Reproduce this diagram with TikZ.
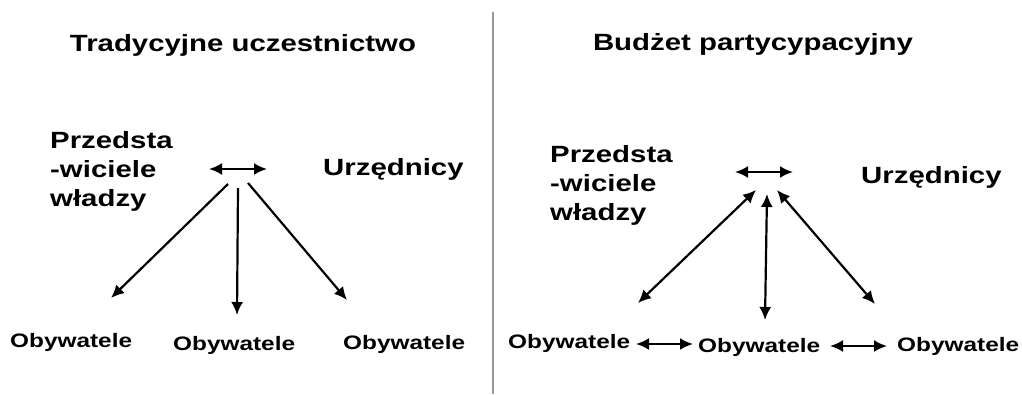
\documentclass[tikz,border=0pt]{standalone}
\usepackage{fontspec}
\newfontfamily\diagfont[FakeStretch=1.25]{Liberation Sans}
\usetikzlibrary{arrows.meta}

\tikzset{
  heading/.style={font=\diagfont\bfseries\fontsize{23.5}{29}\selectfont, inner sep=0pt, anchor=base},
  actor/.style={font=\diagfont\bfseries\fontsize{23.5}{29}\selectfont, inner sep=0pt, align=left},
  citizen/.style={font=\diagfont\bfseries\fontsize{19.5}{23}\selectfont, inner sep=0pt, anchor=base west},
  flow/.style={line width=2.2pt, -{Latex[length=13pt,width=12pt]}},
  both/.style={line width=2.2pt, {Latex[length=13pt,width=12pt]}-{Latex[length=13pt,width=12pt]}}
}

\begin{document}
\begin{tikzpicture}[x=1pt,y=-1pt]
  \useasboundingbox (0,0) rectangle (1022,394);
  \draw[gray!80, line width=1.2pt] (493,12) -- (493,394); % divider

  % left: traditional participation
  \node[heading] (titleL) at (243,51) {Tradycyjne uczestnictwo};
  \node[actor, anchor=west] (repL) at (50,171) {Przedsta\\-wiciele\\władzy};
  \node[actor, anchor=base west] (offL) at (323,175) {Urzędnicy};
  \node[citizen] (citL1) at (10,347) {Obywatele};
  \node[citizen] (citL2) at (173,350) {Obywatele};
  \node[citizen] (citL3) at (343,349) {Obywatele};
  \coordinate (hubL1) at (209,169);
  \coordinate (hubL2) at (267,169);
  \coordinate (srcL1) at (228,184);
  \coordinate (srcL2) at (238,188);
  \coordinate (srcL3) at (248,183);
  \coordinate (dstL1) at (111,298);
  \coordinate (dstL2) at (237,315);
  \coordinate (dstL3) at (347,300);
  \draw[both] (hubL1) -- (hubL2);
  \draw[flow] (srcL1) -- (dstL1);
  \draw[flow] (srcL2) -- (dstL2);
  \draw[flow] (srcL3) -- (dstL3);

  % right: participatory budget
  \node[heading] (titleR) at (753,50) {Budżet partycypacyjny};
  \node[actor, anchor=west] (repR) at (550,185) {Przedsta\\-wiciele\\władzy};
  \node[actor, anchor=base west] (offR) at (861,183) {Urzędnicy};
  \node[citizen] (citR1) at (508,348) {Obywatele};
  \node[citizen] (citR2) at (698,352) {Obywatele};
  \node[citizen] (citR3) at (897,351) {Obywatele};
  \coordinate (hubR1) at (735,172);
  \coordinate (hubR2) at (793,172);
  \coordinate (srcR1) at (756,190);
  \coordinate (srcR2) at (767,194);
  \coordinate (srcR3) at (777,190);
  \coordinate (dstR1) at (638,303);
  \coordinate (dstR2) at (765,320);
  \coordinate (dstR3) at (875,304);
  \coordinate (linkR1) at (636,344);
  \coordinate (linkR2) at (693,344);
  \coordinate (linkR3) at (830,346);
  \coordinate (linkR4) at (887,346);
  \draw[both] (hubR1) -- (hubR2);
  \draw[both] (srcR1) -- (dstR1);
  \draw[both] (srcR2) -- (dstR2);
  \draw[both] (srcR3) -- (dstR3);
  \draw[both] (linkR1) -- (linkR2);
  \draw[both] (linkR3) -- (linkR4);
\end{tikzpicture}
\end{document}
